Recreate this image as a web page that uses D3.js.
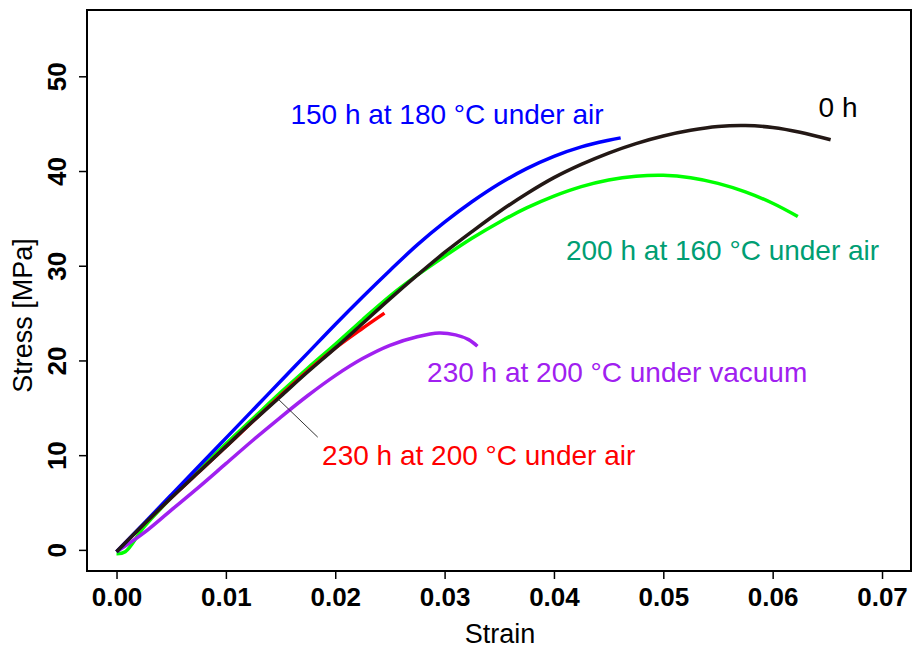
<!DOCTYPE html>
<html>
<head>
<meta charset="utf-8">
<script src="https://cdn.jsdelivr.net/npm/d3@7"></script>
<style>
  body { margin: 0; background: #fff; }
  svg text { font-family: "Liberation Sans", Arial, sans-serif; }
</style>
</head>
<body>
<svg id="svg" width="914" height="650"></svg>
<script>
// stress-strain curves
var black0h = [[0,-0.2],[0.0025,2.7],[0.005,5.5],[0.0075,8.2],[0.01,10.9],[0.0125,13.6],[0.015,16.2],[0.0175,18.8],[0.02,21.3],[0.0225,23.9],[0.025,26.5],[0.0275,29.0],[0.03,31.4],[0.0325,33.6],[0.035,35.7],[0.0375,37.6],[0.04,39.3],[0.0425,40.7],[0.045,41.9],[0.0475,42.9],[0.05,43.7],[0.0525,44.3],[0.055,44.7],[0.0575,44.8],[0.06,44.6],[0.0625,44.1],[0.0653,43.3]];
var blue150h = [[0,-0.2],[0.0025,2.8],[0.005,5.8],[0.0075,8.8],[0.01,11.8],[0.0125,14.8],[0.015,17.8],[0.0175,20.8],[0.02,23.8],[0.0225,26.7],[0.025,29.5],[0.0275,32.2],[0.03,34.6],[0.0325,36.75],[0.035,38.65],[0.0375,40.25],[0.04,41.55],[0.0425,42.55],[0.045,43.25],[0.0461,43.5]];
var green200h = [[0,-0.4],[0.0008,-0.2],[0.0025,2.4],[0.005,5.5],[0.0075,8.4],[0.01,11.2],[0.0125,13.9],[0.015,16.6],[0.0175,19.2],[0.02,21.7],[0.0225,24.3],[0.025,26.8],[0.0275,29.0],[0.03,31.0],[0.0325,32.9],[0.035,34.6],[0.0375,36.1],[0.04,37.35],[0.0425,38.35],[0.045,39.05],[0.0475,39.45],[0.05,39.55],[0.0525,39.3],[0.055,38.7],[0.0575,37.8],[0.06,36.6],[0.0623,35.2]];
var red230hAir = [[0,-0.2],[0.0025,2.7],[0.005,5.5],[0.0075,8.2],[0.01,10.9],[0.0125,13.6],[0.015,16.3],[0.0175,18.9],[0.02,21.3],[0.0225,23.4],[0.0245,25.0]];
var purple230hVac = [[0,-0.2],[0.0025,1.8],[0.005,4.2],[0.0075,6.6],[0.01,9.1],[0.0125,11.6],[0.015,14.0],[0.0175,16.3],[0.02,18.4],[0.0225,20.2],[0.025,21.6],[0.0275,22.5],[0.0295,22.9],[0.031,22.7],[0.0322,22.2],[0.033,21.5]];

var xTicks = [0, 0.01, 0.02, 0.03, 0.04, 0.05, 0.06, 0.07];
var yTicks = [0, 10, 20, 30, 40, 50];

var series = [
  {data: green200h, color: "#00ff00"},
  {data: red230hAir, color: "#ff0000"},
  {data: purple230hVac, color: "#a020f0"},
  {data: blue150h, color: "#0000ff"},
  {data: black0h, color: "#231815"}
];

var labels = [
  {text: "150 h at 180 °C under air", x: 0.0159, y: 45.0, color: "#0000ff"},
  {text: "0 h", x: 0.0642, y: 45.7, color: "#000000"},
  {text: "200 h at 160 °C under air", x: 0.0411, y: 30.6, color: "#009e73"},
  {text: "230 h at 200 °C under vacuum", x: 0.0284, y: 17.7, color: "#a020f0"},
  {text: "230 h at 200 °C under air", x: 0.0188, y: 9.0, color: "#ff0000"}
];

var mLeft = 87, mRight = 911, mTop = 10, mBottom = 571;

var svg = d3.select("svg");

var x = d3.scaleLinear().domain([-0.0027, 0.07265]).range([mLeft, mRight]);
var y = d3.scaleLinear().domain([-2.23, 57.0]).range([mBottom, mTop]);

var line = d3.line()
    .x(function(d) { return x(d[0]); })
    .y(function(d) { return y(d[1]); })
    .curve(d3.curveCatmullRom);

svg.selectAll("path.curve")
  .data(series)
  .enter().append("path")
  .attr("class", "curve")
  .attr("d", function(d) { return line(d.data); })
  .attr("fill", "none")
  .attr("stroke", function(d) { return d.color; })
  .attr("stroke-width", 3.5)
  .attr("stroke-linecap", "butt");

// pointer from the red label to its curve
svg.append("line")
  .attr("x1", x(0.0148)).attr("y1", y(15.9))
  .attr("x2", x(0.0184)).attr("y2", y(11.9))
  .attr("stroke", "#333").attr("stroke-width", 1);

svg.selectAll("text.lab")
  .data(labels)
  .enter().append("text")
  .attr("class", "lab")
  .attr("x", function(d) { return x(d.x); })
  .attr("y", function(d) { return y(d.y); })
  .attr("fill", function(d) { return d.color; })
  .style("font-size", "28px")
  .text(function(d) { return d.text; });

// box
svg.append("rect")
  .attr("x", mLeft).attr("y", mTop)
  .attr("width", mRight - mLeft).attr("height", mBottom - mTop)
  .attr("fill", "none").attr("stroke", "#000").attr("stroke-width", 2);

var xAxis = svg.append("g")
  .attr("transform", "translate(0," + mBottom + ")")
  .call(d3.axisBottom(x).tickValues(xTicks).tickFormat(d3.format(".2f")).tickSize(8).tickSizeOuter(0));
xAxis.select(".domain").remove();
xAxis.selectAll("line").attr("stroke-width", 1.5);
xAxis.selectAll("text")
  .attr("y", 17)
  .style("font-size", "26px")
  .style("font-weight", "bold")
  .style("font-family", "Liberation Sans, Arial, sans-serif")
  .attr("fill", "#000");

var yAxis = svg.append("g")
  .attr("transform", "translate(" + mLeft + ",0)")
  .call(d3.axisLeft(y).tickValues(yTicks).tickSize(8).tickSizeOuter(0));
yAxis.select(".domain").remove();
yAxis.selectAll("line").attr("stroke-width", 1.5);
yAxis.selectAll("text")
  .attr("x", null).attr("dy", null)
  .attr("transform", "translate(-21,0) rotate(-90)")
  .attr("text-anchor", "middle")
  .style("font-size", "26px")
  .style("font-weight", "bold")
  .style("font-family", "Liberation Sans, Arial, sans-serif")
  .attr("fill", "#000");

svg.append("text")
  .attr("x", 500).attr("y", 643)
  .attr("text-anchor", "middle")
  .style("font-size", "27px")
  .text("Strain");

svg.append("text")
  .attr("transform", "translate(32," + ((mTop + mBottom) / 2 + 25) + ") rotate(-90)")
  .attr("text-anchor", "middle")
  .style("font-size", "27px")
  .text("Stress [MPa]");
</script>
</body>
</html>
